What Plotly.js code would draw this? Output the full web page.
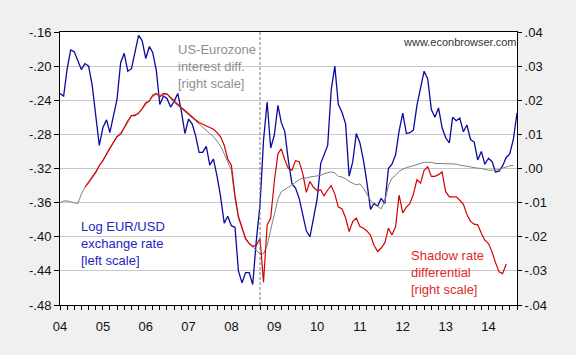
<!DOCTYPE html>
<html>
<head>
<meta charset="utf-8">
<script src="https://cdn.plot.ly/plotly-3.0.1.min.js"></script>
<style>
html,body{margin:0;padding:0;background:#f0f0f0;}
#chart{width:576px;height:355px;}
</style>
</head>
<body>
<div id="chart"></div>
<script>
// Log EUR/USD exchange rate (left scale), monthly Jan 2004 - Sep 2014
const logEurUsd = [
 -0.232,-0.235,-0.204,-0.181,-0.183,-0.194,-0.204,-0.197,-0.200,-0.222,-0.262,-0.293,
 -0.272,-0.263,-0.278,-0.258,-0.239,-0.196,-0.185,-0.206,-0.203,-0.184,-0.164,-0.170,
 -0.191,-0.177,-0.184,-0.205,-0.245,-0.235,-0.238,-0.248,-0.241,-0.232,-0.253,-0.279,
 -0.262,-0.268,-0.281,-0.301,-0.301,-0.294,-0.316,-0.309,-0.329,-0.353,-0.384,-0.376,
 -0.387,-0.389,-0.440,-0.454,-0.442,-0.442,-0.456,-0.404,-0.363,-0.287,-0.242,-0.296,
 -0.281,-0.246,-0.266,-0.277,-0.311,-0.338,-0.343,-0.355,-0.376,-0.393,-0.400,-0.379,
 -0.356,-0.314,-0.305,-0.293,-0.228,-0.200,-0.245,-0.254,-0.268,-0.329,-0.312,-0.279,
 -0.290,-0.311,-0.336,-0.368,-0.361,-0.364,-0.355,-0.361,-0.320,-0.315,-0.304,-0.276,
 -0.255,-0.279,-0.278,-0.275,-0.246,-0.225,-0.206,-0.215,-0.251,-0.260,-0.249,-0.272,
 -0.284,-0.290,-0.260,-0.264,-0.261,-0.277,-0.269,-0.286,-0.289,-0.310,-0.300,-0.315,
 -0.308,-0.312,-0.324,-0.323,-0.317,-0.307,-0.303,-0.286,-0.255
];
const logEurUsdStart = [2004, 1];

// US-Eurozone interest differential (right scale), monthly Jan 2004 - Aug 2014
const interestDiff = [
 -0.0100,-0.0095,-0.0095,-0.0098,-0.0100,-0.0103,-0.0075,-0.0055,-0.0043,-0.0028,-0.0013,0.0008,
 0.0023,0.0040,0.0060,0.0080,0.0095,0.0105,0.0118,0.0135,0.0155,0.0158,0.0160,0.0175,
 0.0188,0.0200,0.0210,0.0218,0.0215,0.0215,0.0220,0.0205,0.0193,0.0185,0.0175,0.0168,
 0.0158,0.0148,0.0140,0.0130,0.0120,0.0110,0.0103,0.0093,0.0080,0.0065,0.0043,0.0020,
 -0.0005,-0.0088,-0.0145,-0.0175,-0.0208,-0.0220,-0.0230,-0.0240,-0.0250,-0.0250,-0.0225,-0.0180,
 -0.0138,-0.0090,-0.0068,-0.0060,-0.0055,-0.0048,-0.0040,-0.0033,-0.0028,-0.0028,-0.0025,-0.0023,
 -0.0023,-0.0020,-0.0015,-0.0013,-0.0010,-0.0013,-0.0023,-0.0025,-0.0030,-0.0038,-0.0043,-0.0048,
 -0.0045,-0.0058,-0.0075,-0.0093,-0.0105,-0.0113,-0.0118,-0.0095,-0.0050,-0.0028,-0.0020,-0.0008,
 -0.0003,0.0003,0.0005,0.0008,0.0010,0.0013,0.0018,0.0018,0.0018,0.0015,0.0015,0.0013,
 0.0013,0.0015,0.0015,0.0013,0.0010,0.0008,0.0005,0.0005,0.0003,0.0001,0.0000,-0.0003,
 -0.0005,-0.0005,-0.0005,-0.0003,0.0001,0.0005,0.0008,0.0009
];
const interestDiffStart = [2004, 1];

// Shadow rate differential (right scale), monthly Aug 2004 - Jun 2014
const shadowDiff = [
 -0.0055,-0.0040,-0.0028,-0.0010,0.0008,
 0.0023,0.0043,0.0060,0.0078,0.0093,0.0100,0.0120,0.0140,0.0155,0.0155,0.0163,0.0175,
 0.0193,0.0198,0.0215,0.0220,0.0210,0.0220,0.0218,0.0208,0.0195,0.0188,0.0178,0.0170,
 0.0160,0.0150,0.0143,0.0135,0.0130,0.0125,0.0120,0.0115,0.0105,0.0093,0.0068,0.0028,
 0.0010,-0.0080,-0.0140,-0.0175,-0.0205,-0.0220,-0.0228,-0.0225,-0.0205,-0.0333,-0.0165,-0.0145,
 -0.0038,0.0043,0.0058,0.0025,0.0000,-0.0005,0.0023,0.0020,-0.0015,-0.0070,-0.0038,-0.0055,
 -0.0065,-0.0063,-0.0080,-0.0063,-0.0050,-0.0075,-0.0113,-0.0118,-0.0145,-0.0185,-0.0155,-0.0145,
 -0.0170,-0.0175,-0.0183,-0.0195,-0.0225,-0.0243,-0.0233,-0.0218,-0.0175,-0.0195,-0.0170,-0.0078,
 -0.0130,-0.0113,-0.0103,-0.0075,-0.0033,-0.0043,-0.0005,0.0005,-0.0023,-0.0023,-0.0018,-0.0010,
 -0.0068,-0.0083,-0.0083,-0.0083,-0.0093,-0.0105,-0.0135,-0.0155,-0.0163,-0.0165,-0.0190,-0.0210,
 -0.0220,-0.0245,-0.0275,-0.0303,-0.0308,-0.0280
];
const shadowDiffStart = [2004, 8];

const leftTicks = [-0.48,-0.44,-0.40,-0.36,-0.32,-0.28,-0.24,-0.20,-0.16];
const leftTickText = ['-.48','-.44','-.40','-.36','-.32','-.28','-.24','-.20','-.16'];
const rightTicks = [-0.04,-0.03,-0.02,-0.01,0,0.01,0.02,0.03,0.04];
const rightTickText = ['-.04','-.03','-.02','-.01','.00','.01','.02','.03','.04'];
const eventDate = '2008-09-01';
const xRange = ['2004-01-01','2014-09-01'];

function monthDates(start, n) {
  const out = [];
  let y = start[0], m = start[1];
  for (let i = 0; i < n; i++) {
    out.push(y + '-' + String(m).padStart(2,'0') + '-01');
    m++; if (m > 12) { m = 1; y++; }
  }
  return out;
}

const traces = [
  {x: monthDates(interestDiffStart, interestDiff.length), y: interestDiff, yaxis:'y2',
   type:'scatter', mode:'lines', line:{color:'#7f7f7f', width:1}, hoverinfo:'skip'},
  {x: monthDates(shadowDiffStart, shadowDiff.length), y: shadowDiff, yaxis:'y2',
   type:'scatter', mode:'lines', line:{color:'#d40000', width:1.2}, hoverinfo:'skip'},
  {x: monthDates(logEurUsdStart, logEurUsd.length), y: logEurUsd, yaxis:'y',
   type:'scatter', mode:'lines', line:{color:'#0a0aa0', width:1.3}, hoverinfo:'skip'}
];

const layout = {
  width:576, height:355,
  margin:{l:60, r:59, t:32, b:50, pad:0},
  paper_bgcolor:'#f0f0f0', plot_bgcolor:'#ffffff',
  showlegend:false,
  font:{family:'Liberation Sans, Arial, sans-serif', size:13, color:'#111'},
  xaxis:{type:'date', range:xRange, tick0:'2004-01-01', dtick:'M12', tickformat:'%y',
    ticks:'outside', ticklen:4, tickcolor:'#000', tickwidth:1,
    showline:true, linecolor:'#000', linewidth:1, mirror:true,
    showgrid:false, zeroline:false, ticklabelstandoff:5,
    minor:{dtick:'M2', tick0:'2004-01-01', ticks:'outside', ticklen:4, tickcolor:'#000', showgrid:false}},
  yaxis:{range:[-0.48,-0.16], tickmode:'array', tickvals:leftTicks, ticktext:leftTickText,
    ticks:'outside', ticklen:5, tickcolor:'#000', showline:true, linecolor:'#000', linewidth:1,
    showgrid:true, gridcolor:'#c8c8c8', gridwidth:1, zeroline:false},
  yaxis2:{range:[-0.04,0.04], overlaying:'y', side:'right', tickmode:'array',
    tickvals:rightTicks, ticktext:rightTickText, ticks:'outside', ticklen:4, tickcolor:'#000',
    showline:true, linecolor:'#000', linewidth:1, showgrid:false, zeroline:false},
  shapes:[{type:'line', xref:'x', yref:'paper', x0:eventDate, x1:eventDate, y0:0, y1:1,
    line:{color:'#7a7a7a', width:1, dash:'3px,2px'}}],
  annotations:[
    {text:'US-Eurozone<br>interest diff.<br>[right scale]', xref:'paper', yref:'paper',
     x:0.253, y:0.875, xanchor:'left', yanchor:'middle', align:'left', showarrow:false,
     font:{size:13, color:'#8f8f8f'}},
    {text:'Log EUR/USD<br>exchange rate<br>[left scale]', xref:'paper', yref:'paper',
     x:0.042, y:0.226, xanchor:'left', yanchor:'middle', align:'left', showarrow:false,
     font:{size:13, color:'#2424c0'}},
    {text:'Shadow rate<br>differential<br>[right scale]', xref:'paper', yref:'paper',
     x:0.764, y:0.119, xanchor:'left', yanchor:'middle', align:'left', showarrow:false,
     font:{size:13, color:'#e02a2a'}},
    {text:'www.econbrowser.com', xref:'paper', yref:'paper',
     x:0.746, y:0.963, xanchor:'left', yanchor:'middle', align:'left', showarrow:false,
     font:{size:11, color:'#333333'}}
  ]
};

Plotly.newPlot('chart', traces, layout, {displayModeBar:false, staticPlot:true});
</script>
</body>
</html>
